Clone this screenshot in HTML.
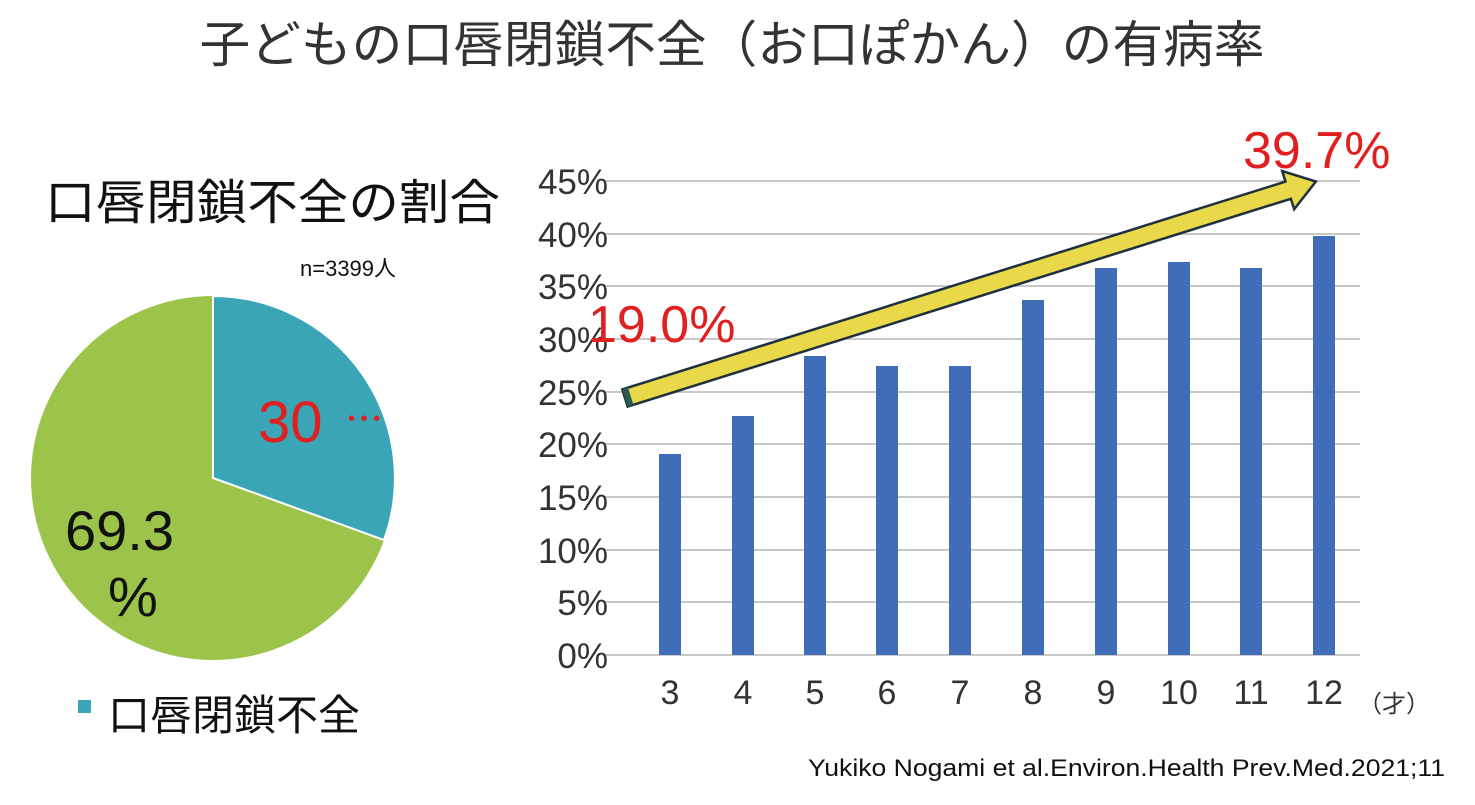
<!DOCTYPE html>
<html><head><meta charset="utf-8"><style>
body{margin:0;background:#fff;width:1475px;height:800px;overflow:hidden;font-family:"Liberation Sans","Noto Sans CJK JP",sans-serif}
</style></head><body>
<svg width="1475" height="800" xmlns="http://www.w3.org/2000/svg" font-family="Liberation Sans, Noto Sans CJK JP, sans-serif">
<text x="732" y="62" font-size="50" text-anchor="middle" fill="#333" textLength="1065" lengthAdjust="spacingAndGlyphs">子どもの口唇閉鎖不全（お口ぽかん）の有病率</text>
<text x="45" y="219" font-size="48" fill="#111" textLength="455" lengthAdjust="spacingAndGlyphs">口唇閉鎖不全の割合</text>
<text x="300" y="276" font-size="22" fill="#111">n=3399人</text>
<!-- pie -->
<circle cx="213" cy="478" r="182" fill="#9cc44a"/>
<path d="M213 478 L213 296 A182 182 0 0 1 384 540 Z" fill="#39a5b6" stroke="#fff" stroke-width="2"/>
<text x="258" y="442" font-size="58" fill="#e02020">30</text>
<text x="348" y="425" font-size="20" fill="#e02020">• • •</text>
<text x="65" y="550" font-size="56" fill="#111">69.3</text>
<text x="108" y="616" font-size="56" fill="#111">%</text>
<rect x="78" y="700" width="13" height="13" fill="#39a5b6"/>
<text x="108" y="730" font-size="42" fill="#111" textLength="252" lengthAdjust="spacingAndGlyphs">口唇閉鎖不全</text>
<!-- grid -->
<g stroke="#c8c8c8" stroke-width="2">
<line x1="605" y1="181" x2="1360" y2="181"/><line x1="605" y1="234" x2="1360" y2="234"/>
<line x1="605" y1="286" x2="1360" y2="286"/><line x1="605" y1="339" x2="1360" y2="339"/>
<line x1="605" y1="392" x2="1360" y2="392"/><line x1="605" y1="444" x2="1360" y2="444"/>
<line x1="605" y1="497" x2="1360" y2="497"/><line x1="605" y1="550" x2="1360" y2="550"/>
<line x1="605" y1="602" x2="1360" y2="602"/><line x1="605" y1="655" x2="1360" y2="655"/>
</g>
<g font-size="35" fill="#333" text-anchor="end">
<text x="608" y="194">45%</text><text x="608" y="247">40%</text><text x="608" y="299">35%</text>
<text x="608" y="352">30%</text><text x="608" y="405">25%</text><text x="608" y="457">20%</text>
<text x="608" y="510">15%</text><text x="608" y="563">10%</text><text x="608" y="615">5%</text>
<text x="608" y="668">0%</text>
</g>
<g fill="#3f6db8">
<rect x="659" y="454" width="22" height="201"/><rect x="732" y="416" width="22" height="239"/>
<rect x="804" y="356" width="22" height="299"/><rect x="876" y="366" width="22" height="289"/>
<rect x="949" y="366" width="22" height="289"/><rect x="1022" y="300" width="22" height="355"/>
<rect x="1095" y="268" width="22" height="387"/><rect x="1168" y="262" width="22" height="393"/>
<rect x="1240" y="268" width="22" height="387"/><rect x="1313" y="236" width="22" height="419"/>
</g>
<g font-size="34" fill="#333" text-anchor="middle">
<text x="670" y="704">3</text><text x="743" y="704">4</text><text x="815" y="704">5</text>
<text x="887" y="704">6</text><text x="960" y="704">7</text><text x="1033" y="704">8</text>
<text x="1106" y="704">9</text><text x="1179" y="704">10</text><text x="1251" y="704">11</text>
<text x="1324" y="704">12</text>
</g>
<text x="1358" y="712" font-size="24" fill="#333">（才）</text>
<!-- arrow -->
<g transform="translate(625,398) rotate(-17.4)">
<polygon points="0,-9 695,-9 695,-20 724,0 695,20 695,9 0,9" fill="#e8d84a" stroke="#1e3040" stroke-width="2.5"/>
<rect x="0" y="-9" width="6" height="18" fill="#2a5a50"/>
</g>
<text x="588" y="342" font-size="52" fill="#e02020">19.0%</text>
<text x="1243" y="168" font-size="52" fill="#e02020">39.7%</text>
<text x="808" y="776" font-size="24" fill="#111" textLength="637" lengthAdjust="spacingAndGlyphs">Yukiko Nogami et al.Environ.Health Prev.Med.2021;11</text>
</svg>
</body></html>
